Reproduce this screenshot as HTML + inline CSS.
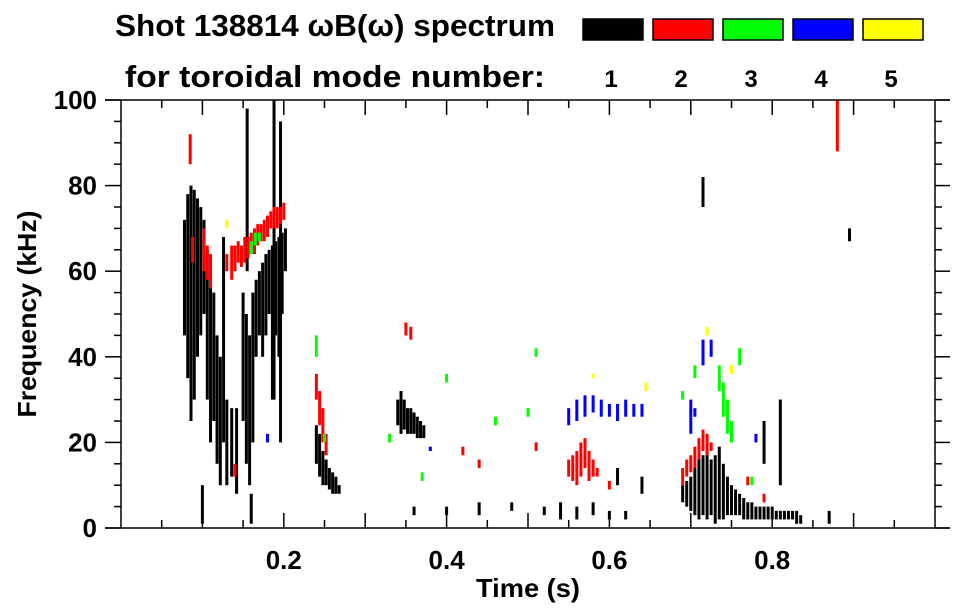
<!DOCTYPE html>
<html><head><meta charset="utf-8"><style>
html,body{margin:0;padding:0;background:#fff;}
svg{display:block;font-family:"Liberation Sans",sans-serif;font-weight:bold;}
</style></head><body>
<svg id="chart" width="963" height="615" viewBox="0 0 963 615" xmlns="http://www.w3.org/2000/svg">
<text x="115" y="36" font-size="31" textLength="440" lengthAdjust="spacingAndGlyphs">Shot 138814 ωB(ω) spectrum</text>
<text x="125" y="87" font-size="31" textLength="420" lengthAdjust="spacingAndGlyphs">for toroidal mode number:</text>
<g id="legend"></g>
<g id="marks"></g>
<g id="axes"></g>
<text x="528" y="597" font-size="26" text-anchor="middle" textLength="104" lengthAdjust="spacingAndGlyphs">Time (s)</text>
<text transform="translate(36,314) rotate(-90)" font-size="26" text-anchor="middle" textLength="207" lengthAdjust="spacingAndGlyphs">Frequency (kHz)</text>
</svg>
<script>
const modeColors = ["#000000","#ff0000","#00ff00","#0000ff","#ffff00"];
const modeLabels = ["1","2","3","4","5"];
const xTicks = [0.2,0.4,0.6,0.8];
const yTicks = [0,20,40,60,80,100];
const mode1 = [[0.078,45,72],[0.082,35,78],[0.086,25,80],[0.090,30,79],[0.094,40,77],[0.098,45,75],[0.102,50,72],[0.106,30,65],[0.110,20,60],[0.114,25,55],[0.118,15,45],[0.122,10,40],[0.126,20,68],[0.130,10,30],[0.136,12,28],[0.142,8,28],
[0.150,25,55],[0.154,15,50],[0.158,10,45],[0.162,20,55],[0.166,40,58],[0.170,45,60],[0.174,40,62],[0.178,45,64],[0.182,50,65],[0.186,30,66],[0.190,45,67],[0.194,40,68],[0.198,50,69],[0.202,60,70],
[0.155,60,98],[0.188,30,100],[0.196,20,95],
[0.240,15,24],[0.244,12,22],[0.248,10,18],[0.252,10,16],[0.256,9,14],[0.260,8,13],[0.264,8,12],[0.268,8,10],
[0.340,24,30],[0.344,22,32],[0.348,23,30],[0.352,22,28],[0.356,22,28],[0.360,22,27],[0.364,21,26],[0.368,21,25],[0.372,21,24],
[0.36,3,5],[0.40,3,5],[0.44,3,6],[0.48,4,6],[0.52,3,5],[0.54,2,6],[0.56,2,5],[0.58,3,6],[0.60,2,4],[0.62,2,4],
[0.690,6,10],[0.695,5,11],[0.700,4,12],[0.705,3,14],[0.710,2,16],[0.715,3,17],[0.720,2,18],[0.725,3,16],[0.730,1,17],[0.735,2,19],[0.740,2,15],[0.745,3,12],[0.750,3,10],[0.755,3,9],[0.760,3,8],[0.765,2,7],[0.770,2,6],[0.775,2,6],[0.780,2,5],[0.785,2,5],[0.790,2,5],[0.795,2,5],[0.800,2,5],[0.805,2,4],[0.810,2,4],[0.815,2,4],[0.820,2,4],[0.825,2,4],[0.830,1,4],[0.835,1,3],
[0.715,75,82],[0.79,15,25],[0.81,10,30],[0.87,1,4],[0.895,67,70],[0.64,8,12],[0.61,10,14],[0.1,1,10],[0.16,1,8]];
const mode2 = [[0.085,85,92],[0.088,62,68],[0.102,60,70],[0.106,58,66],[0.110,56,64],[0.130,60,64],[0.136,58,66],[0.140,60,66],[0.144,62,67],[0.148,61,66],[0.152,62,68],[0.156,63,68],[0.160,64,69],[0.164,64,70],[0.168,66,71],[0.172,67,71],[0.176,67,72],[0.180,68,73],[0.184,70,74],[0.188,70,75],[0.192,70,75],[0.196,71,75],[0.200,72,76],
[0.240,30,36],[0.244,24,32],[0.248,20,28],[0.252,17,22],[0.350,45,48],[0.356,44,47],[0.42,17,19],[0.44,14,16],[0.51,18,20],
[0.550,12,16],[0.555,11,17],[0.560,10,18],[0.565,12,20],[0.570,14,21],[0.575,11,18],[0.580,12,16],[0.585,12,14],[0.600,9,11],
[0.690,10,14],[0.695,12,16],[0.700,13,17],[0.705,14,19],[0.710,16,21],[0.715,18,23],[0.720,17,22],[0.725,18,20],[0.77,10,12],[0.79,6,8],[0.880,88,100],[0.140,12,15]];
const mode3 = [[0.160,64,67],[0.165,66,69],[0.170,67,69],[0.24,40,45],[0.25,20,22],[0.33,20,22],[0.37,11,13],[0.40,34,36],[0.46,24,26],[0.50,26,28],[0.51,40,42],[0.705,35,38],[0.735,32,38],[0.740,26,34],[0.745,22,30],[0.750,20,25],[0.760,38,42],[0.775,10,12],[0.69,30,32]];
const mode4 = [[0.550,24,28],[0.560,25,30],[0.570,26,31],[0.580,27,31],[0.590,26,30],[0.600,26,29],[0.610,25,29],[0.620,26,30],[0.630,26,29],[0.640,26,29],[0.700,22,30],[0.705,26,28],[0.715,38,44],[0.725,40,44],[0.78,20,22],[0.18,20,22],[0.38,18,19]];
const mode5 = [[0.13,70,72],[0.58,35,36],[0.645,32,34],[0.72,45,47],[0.75,36,38]];

const NS="http://www.w3.org/2000/svg";
const L=121,R=935,T=100,B=528;
const xs=t=>L+(t/1.0)*(R-L);
const ys=f=>B-(f/100)*(B-T);
function mk(tag,parent){const e=document.createElementNS(NS,tag);parent.appendChild(e);return e;}

const leg=document.getElementById('legend');
modeColors.forEach((c,i)=>{
  const r=mk('rect',leg);
  
  
  r.setAttribute('x',583+i*70);r.setAttribute('y',19);r.setAttribute('width',60);r.setAttribute('height',21);
  r.setAttribute('fill',c);r.setAttribute('stroke','#000');r.setAttribute('stroke-width',1.5);
  const tx=mk('text',leg);
  
  
  tx.setAttribute('x',611+i*70);tx.setAttribute('y',87);tx.setAttribute('font-size',24);tx.setAttribute('text-anchor','middle');
  tx.textContent=modeLabels[i];
});

const marks=document.getElementById('marks');
[mode1,mode2,mode3,mode4,mode5].forEach((arr,m)=>{
  arr.forEach(d=>{
    const r=mk('rect',marks);
    
    
    const y1=ys(d[2]),y2=ys(d[1]);
    r.setAttribute('x',xs(d[0])-1.5);r.setAttribute('width',3);
    r.setAttribute('y',y1);r.setAttribute('height',Math.max(2,y2-y1));
    r.setAttribute('fill',modeColors[m]);
  });
});

const ax=document.getElementById('axes');
function line(x1,y1,x2,y2,name){const l=mk('line',ax);
  
  
  l.setAttribute('x1',x1);l.setAttribute('y1',y1);l.setAttribute('x2',x2);l.setAttribute('y2',y2);
  l.setAttribute('stroke','#000');l.setAttribute('stroke-width',1.5);}
line(105,T,950,T,'top-axis');line(105,B,950,B,'x-axis');
line(L,T,L,B,'y-axis');line(R,T,R,B,'right-axis');
for(let f=0;f<=100;f+=5){const maj=f%20===0;
  line(maj?105:L-7,ys(f),L,ys(f),'y-tick');
  line(R,ys(f),maj?950:R+7,ys(f),'right-tick');}
for(let t=0.05;t<1.0;t+=0.05){const maj=Math.abs(t*10-Math.round(t*10))<1e-6;
  line(xs(t),B,xs(t),B-(maj?15:8),'x-tick');
  line(xs(t),T,xs(t),T+(maj?15:8),'top-tick');}
yTicks.forEach(v=>{const tx=mk('text',ax);
  
  
  tx.setAttribute('x',97);tx.setAttribute('y',ys(v)+9);tx.setAttribute('font-size',26);tx.setAttribute('text-anchor','end');tx.textContent=v;});
xTicks.forEach(v=>{const tx=mk('text',ax);
  
  
  tx.setAttribute('x',xs(v));tx.setAttribute('y',569);tx.setAttribute('font-size',26);tx.setAttribute('text-anchor','middle');tx.textContent=v;});
</script>
</body></html>
